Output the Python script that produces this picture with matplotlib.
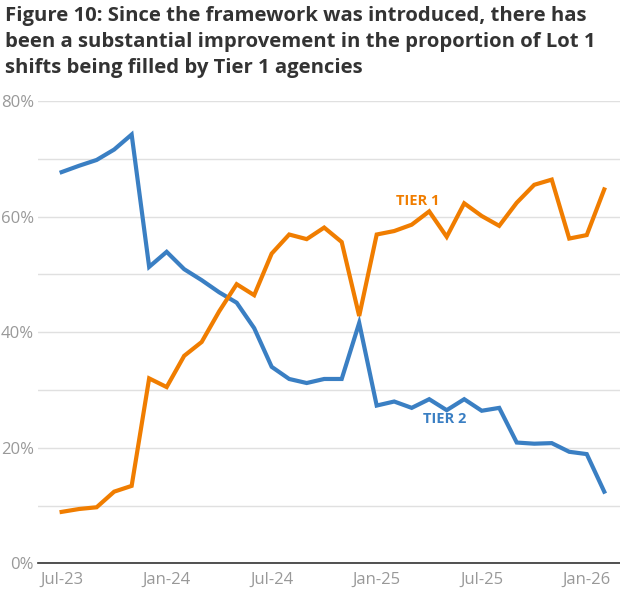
import numpy as np
import matplotlib.pyplot as plt

# monthly share of Lot 1 shifts, Jul-23 .. Feb-26
months = ['Jul-23', 'Aug-23', 'Sep-23', 'Oct-23', 'Nov-23', 'Dec-23',
          'Jan-24', 'Feb-24', 'Mar-24', 'Apr-24', 'May-24', 'Jun-24',
          'Jul-24', 'Aug-24', 'Sep-24', 'Oct-24', 'Nov-24', 'Dec-24',
          'Jan-25', 'Feb-25', 'Mar-25', 'Apr-25', 'May-25', 'Jun-25',
          'Jul-25', 'Aug-25', 'Sep-25', 'Oct-25', 'Nov-25', 'Dec-25',
          'Jan-26', 'Feb-26']
tier1 = [8.9, 9.4, 9.7, 12.4, 13.4, 32.0, 30.5, 35.9, 38.3, 43.6, 48.3, 46.4,
         53.6, 56.9, 56.1, 58.1, 55.6, 42.8, 56.9, 57.5, 58.6, 60.9, 56.5, 62.3,
         60.1, 58.4, 62.4, 65.5, 66.4, 56.2, 56.8, 64.7]
tier2 = [67.7, 68.8, 69.8, 71.6, 74.2, 51.3, 53.9, 50.9, 49.0, 46.9, 45.1, 40.7,
         34.0, 31.9, 31.2, 31.9, 31.9, 41.6, 27.3, 28.0, 26.9, 28.4, 26.5, 28.4,
         26.4, 26.9, 20.9, 20.7, 20.8, 19.3, 18.9, 12.4]
tick_labels = ['Jul-23', 'Jan-24', 'Jul-24', 'Jan-25', 'Jul-25', 'Jan-26']

orange = '#F07D00'
blue = '#3A7FC3'
x = np.arange(len(months))

fig = plt.figure(figsize=(6.2, 5.89), dpi=100)
ax = fig.add_axes([0.0613, 0.0436, 0.9387, 0.7849])

ax.plot(x, tier2, color=blue, lw=3, zorder=3, clip_on=False, solid_joinstyle='miter')
ax.plot(x, tier1, color=orange, lw=3, zorder=4, clip_on=False, solid_joinstyle='miter')

ax.set_xlim(-1.35, 31.9)
ax.set_ylim(0, 80)
ax.set_yticks(np.arange(0, 81, 10))
ax.set_yticklabels(['0%', '', '20%', '', '40%', '', '60%', '', '80%'])
ax.set_xticks([months.index(m) for m in tick_labels])
ax.set_xticklabels(tick_labels)
ax.grid(axis='y', color='#e0e0e0', lw=1)
ax.set_axisbelow(True)
ax.tick_params(length=0, labelsize=12, labelcolor='#999999')
ax.tick_params(axis='y', pad=3)
ax.tick_params(axis='x', pad=6)
for lab in ax.get_xticklabels() + ax.get_yticklabels():
    lab.set_family('Open Sans')
for s in ['left', 'right', 'top']:
    ax.spines[s].set_visible(False)
ax.spines['bottom'].set_color('#333333')
ax.spines['bottom'].set_linewidth(1.2)

ax.text(20.36, 62.7, 'TIER 1', color=orange, fontsize=10.5, fontweight='bold',
        ha='center', va='center', family='Open Sans')
ax.text(21.9, 25.0, 'TIER 2', color=blue, fontsize=10.5, fontweight='bold',
        ha='center', va='center', family='Open Sans')

fig.text(0.008, 0.99, 'Figure 10: Since the framework was introduced, there has\n'
         'been a substantial improvement in the proportion of Lot 1\n'
         'shifts being filled by Tier 1 agencies',
         ha='left', va='top', fontsize=14.6, fontweight='bold', color='#333333',
         family='Open Sans', linespacing=1.42)

fig.savefig('out.png', dpi=100)
